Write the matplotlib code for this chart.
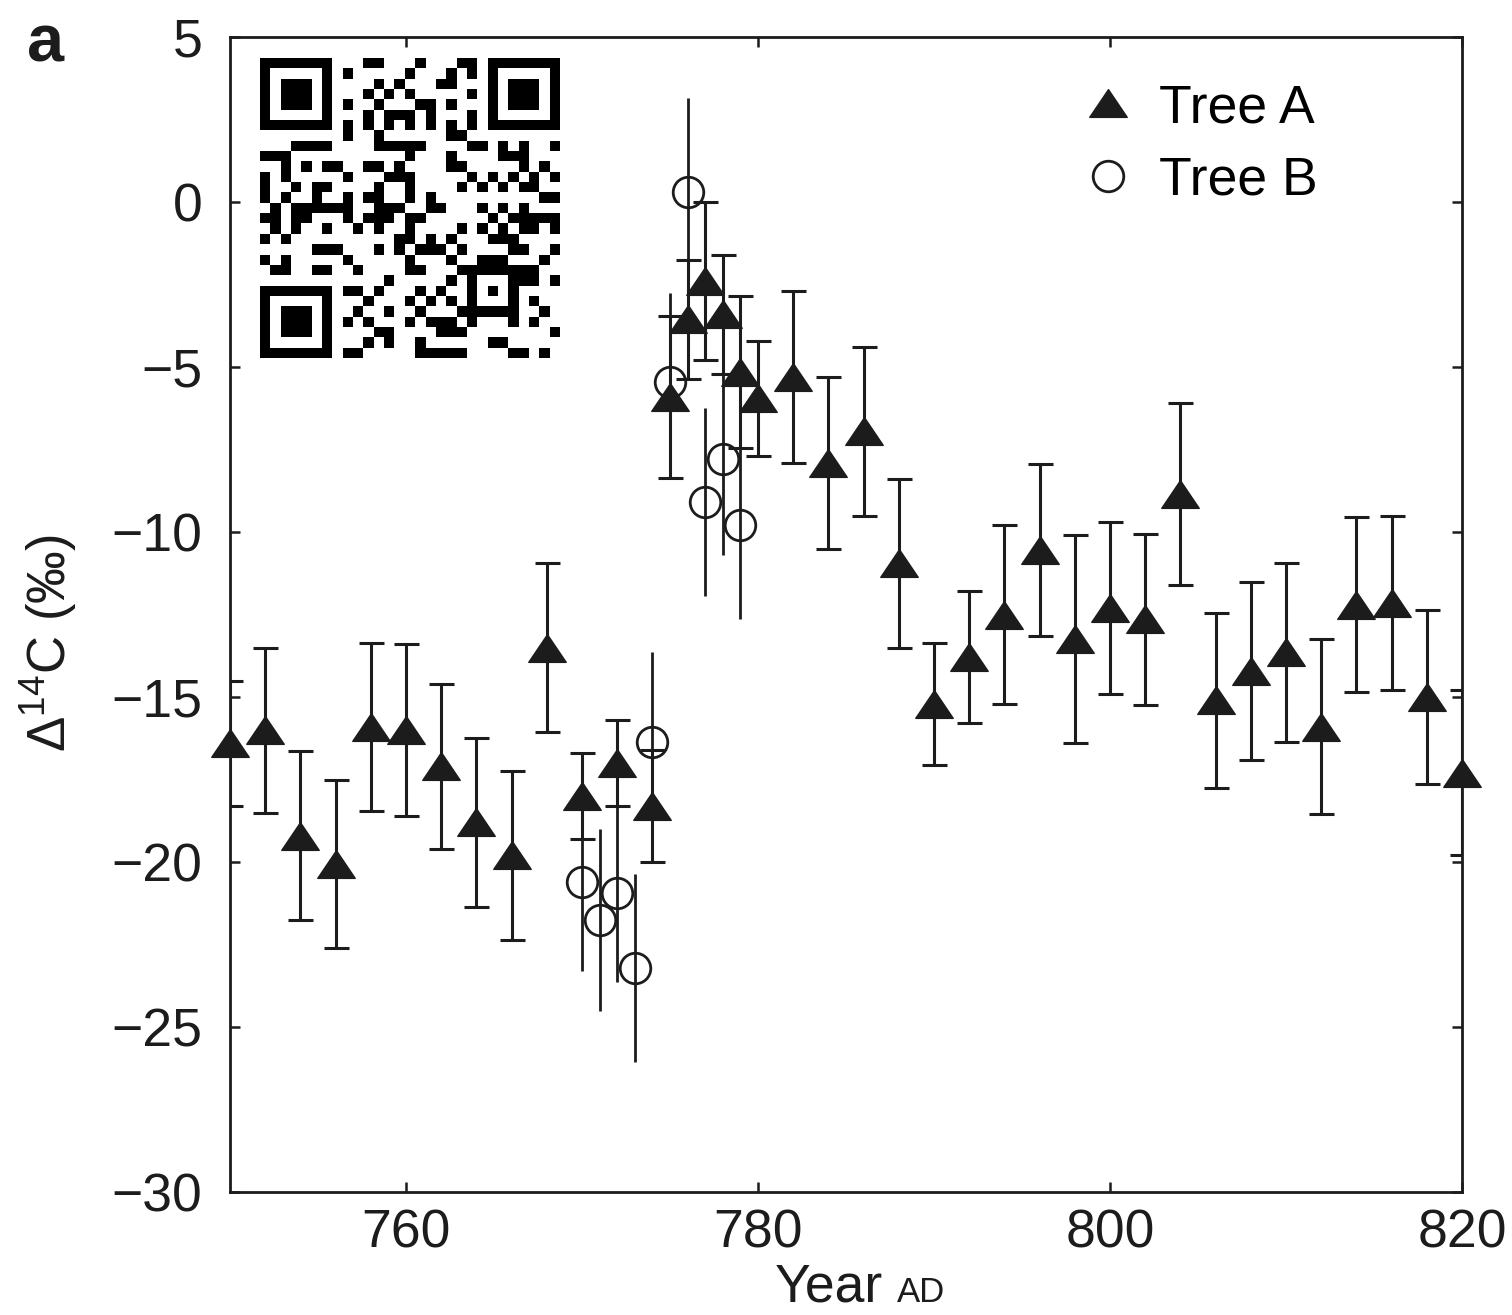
import numpy as np
import matplotlib.pyplot as plt
from matplotlib.path import Path

plt.rcParams['font.family'] = ['Liberation Sans', 'DejaVu Sans']
plt.rcParams['mathtext.fontset'] = 'custom'
plt.rcParams['mathtext.rm'] = 'Liberation Sans'

# Tree A (triangles, capped error bars)
years_a = [750, 752, 754, 756, 758, 760, 762, 764, 766, 768, 770, 772, 774,
           775, 776, 777, 778, 779, 780, 782, 784, 786, 788, 790, 792, 794,
           796, 798, 800, 802, 804, 806, 808, 810, 812, 814, 816, 818, 820]
d14c_a = [-16.4, -16.0, -19.2, -20.05, -15.9, -16.0, -17.1, -18.8, -19.8, -13.5,
          -18.0, -17.0, -18.3, -5.9, -3.55, -2.4, -3.4, -5.15, -5.95, -5.3,
          -7.9, -6.95, -10.95, -15.2, -13.8, -12.5, -10.55, -13.25, -12.3,
          -12.65, -8.85, -15.1, -14.2, -13.65, -15.9, -12.2, -12.15, -15.0, -17.3]
err_a = [1.9, 2.5, 2.55, 2.55, 2.55, 2.6, 2.5, 2.55, 2.55, 2.55,
         1.3, 1.3, 1.7, 2.45, 1.8, 2.4, 1.8, 2.3, 1.75, 2.6,
         2.6, 2.55, 2.55, 1.85, 2.0, 2.7, 2.6, 3.15, 2.6,
         2.6, 2.75, 2.65, 2.7, 2.7, 2.65, 2.65, 2.65, 2.65, 2.5]

# Tree B (open circles, no caps)
years_b = [770, 771, 772, 773, 774, 775, 776, 777, 778, 779]
d14c_b = [-20.6, -21.75, -20.95, -23.2, -16.35, -5.45, 0.3, -9.1, -7.8, -9.8]
err_b = [2.7, 2.75, 2.7, 2.85, 2.7, 2.7, 2.85, 2.85, 2.9, 2.85]

ink = '#1c1c1c'
fs = 38.5

fig = plt.figure(figsize=(15.12, 13.15), dpi=100)
ax = fig.add_axes([230 / 1512, 1 - 1192 / 1315, 1232 / 1512, 1155 / 1315])

# flattened triangle marker
tri = Path([(-1, -0.74), (1, -0.74), (0, 0.74), (-1, -0.74)],
           [Path.MOVETO, Path.LINETO, Path.LINETO, Path.CLOSEPOLY])

ax.errorbar(years_b, d14c_b, yerr=err_b, fmt='none', ecolor=ink,
            elinewidth=2.0, capsize=0)
ax.plot(years_b, d14c_b, ls='none', marker='o', ms=22, mfc='none',
        mec=ink, mew=2.0, clip_on=False, label='Tree B', zorder=3)

ax.errorbar(years_a, d14c_a, yerr=err_a, fmt='none', ecolor=ink,
            elinewidth=2.2, capsize=9, capthick=2.2)
ax.plot(years_a, d14c_a, ls='none', marker=tri, ms=27, color=ink,
        clip_on=False, label='Tree A', zorder=4)

ax.set_xlim(750, 820)
ax.set_ylim(-30, 5)
ax.set_xticks([760, 780, 800, 820])
ax.set_yticks([5, 0, -5, -10, -15, -20, -25, -30])
ax.tick_params(direction='in', length=7, width=1.8, top=True, right=True,
               labelsize=fs, colors=ink)
ax.tick_params(axis='x', pad=12)
ax.tick_params(axis='y', pad=20)
for s in ax.spines.values():
    s.set_linewidth(2.0)
    s.set_color(ink)

h, l = ax.get_legend_handles_labels()
ax.legend([h[1], h[0]], [l[1], l[0]], loc='upper left',
          bbox_to_anchor=(0.691, 0.96), frameon=False, fontsize=fs,
          handlelength=1.0, handletextpad=0.45, labelspacing=0.42,
          borderpad=0, borderaxespad=0)

fig.text(48 / 1512, 1 - 643 / 1315, 'Δ$^{\\mathregular{14}}$C (‰)',
         rotation=90, ha='center', va='center', fontsize=38, color=ink)
fig.text(775 / 1512, 1 - 1302 / 1315, 'Year', fontsize=fs, color=ink,
         ha='left', va='baseline')
fig.text(897 / 1512, 1 - 1302 / 1315, 'AD', fontsize=25, color=ink,
         ha='left', va='baseline')
fig.text(27 / 1512, 1 - 62 / 1315, 'a', fontsize=48, fontweight='bold',
         color=ink, ha='left', va='baseline')

# QR-like overlay in the top-left corner
n = 29
seed_text = b'Delta14C tree ring record, cosmic ray event AD 774-775, Tree A and Tree B'
raw = np.frombuffer(seed_text * 2, dtype=np.uint8)
bits = np.unpackbits(raw ^ np.roll(raw, 7))[:n * n].reshape(n, n).astype(float)
grid = bits.copy()
grid[6, :] = (np.arange(n) % 2 == 0)
grid[:, 6] = (np.arange(n) % 2 == 0)


def finder(g, r, c):
    g[max(r - 1, 0):r + 8, max(c - 1, 0):c + 8] = 0
    g[r:r + 7, c:c + 7] = 1
    g[r + 1:r + 6, c + 1:c + 6] = 0
    g[r + 2:r + 5, c + 2:c + 5] = 1


finder(grid, 0, 0)
finder(grid, 0, n - 7)
finder(grid, n - 7, 0)
grid[20:25, 20:25] = 1
grid[21:24, 21:24] = 0
grid[22, 22] = 1

qax = fig.add_axes([260 / 1512, 1 - 358 / 1315, 300 / 1512, 300 / 1315])
qax.imshow(grid, cmap='gray_r', interpolation='nearest', vmin=0, vmax=1)
qax.axis('off')

fig.savefig('out.png', dpi=100)
